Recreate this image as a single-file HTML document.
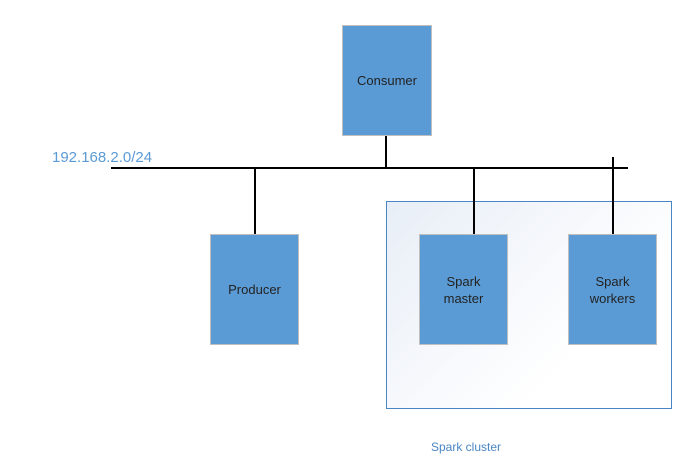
<!DOCTYPE html>
<html><head><style>
body{margin:0;width:688px;height:476px;background:#fff;position:relative;font-family:"Liberation Sans",sans-serif;overflow:hidden}
.b{position:absolute;background:#5b9bd5;border:1px solid #bfbfbf;box-sizing:border-box;display:flex;align-items:center;justify-content:center;text-align:center;font-size:13px;color:#222;line-height:17px}
.l{position:absolute;background:#000}
</style></head><body>
<div style="position:absolute;left:386px;top:201px;width:286px;height:208px;box-sizing:border-box;border:1px solid #4a86c5;background:linear-gradient(135deg,#e8eef7,#ffffff 70%)"></div>
<div class="l" style="left:111px;top:167px;width:517px;height:2px"></div>
<div class="l" style="left:385px;top:135px;width:2px;height:33px"></div>
<div class="l" style="left:254px;top:168px;width:2px;height:66px"></div>
<div class="l" style="left:473px;top:168px;width:2px;height:66px"></div>
<div class="l" style="left:612px;top:157px;width:2px;height:77px"></div>
<div class="b" style="left:342px;top:25px;width:90px;height:111px">Consumer</div>
<div class="b" style="left:210px;top:234px;width:89px;height:111px">Producer</div>
<div class="b" style="left:419px;top:234px;width:89px;height:111px">Spark<br>master</div>
<div class="b" style="left:568px;top:234px;width:89px;height:111px">Spark<br>workers</div>
<div style="position:absolute;left:52px;top:149px;font-size:15px;color:#5b9bd5">192.168.2.0/24</div>
<div style="position:absolute;left:431px;top:440px;font-size:12px;color:#4a86c5">Spark cluster</div>
</body></html>
